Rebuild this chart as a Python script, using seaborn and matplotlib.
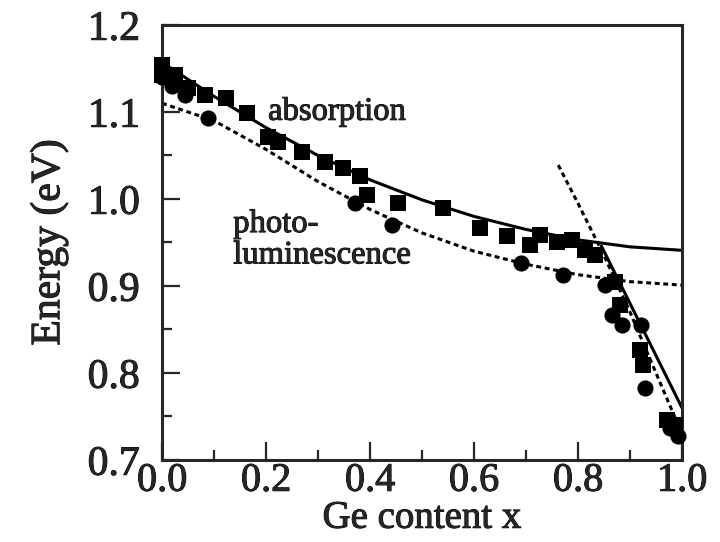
import matplotlib.pyplot as plt
import matplotlib.patheffects as pe
import numpy as np
import pandas as pd
import seaborn as sns
from matplotlib.ticker import MultipleLocator

sns.set_style("ticks")
plt.rcParams['font.family'] = ['Liberation Serif', 'DejaVu Serif']
plt.rcParams['axes.linewidth'] = 2.2

abs_x = [0.0, 0.0, 0.025, 0.05, 0.083, 0.123, 0.163, 0.204, 0.223, 0.269, 0.313, 0.348,
         0.381, 0.395, 0.454, 0.54, 0.612, 0.663, 0.708, 0.727, 0.76, 0.788, 0.813, 0.833,
         0.871, 0.881, 0.919, 0.925, 0.971, 0.987]
abs_y = [1.154, 1.143, 1.143, 1.128, 1.12, 1.116, 1.099, 1.071, 1.066, 1.054, 1.043, 1.036,
         1.026, 1.005, 0.995, 0.99, 0.967, 0.957, 0.947, 0.959, 0.951, 0.953, 0.941, 0.936,
         0.905, 0.878, 0.826, 0.809, 0.746, 0.74]
pl_x = [0.0, 0.02, 0.045, 0.088, 0.371, 0.442, 0.69, 0.771, 0.852, 0.865, 0.885, 0.921,
        0.929, 0.977, 0.992]
pl_y = [1.14, 1.13, 1.12, 1.093, 0.995, 0.97, 0.926, 0.913, 0.901, 0.867, 0.855, 0.855,
        0.783, 0.737, 0.728]

# fitted curves
fit_x = [0.0, 0.1, 0.2, 0.3, 0.4, 0.5, 0.6, 0.7, 0.8, 0.9, 1.0]
abs_fit = [1.157, 1.118, 1.082, 1.05, 1.022, 0.999, 0.98, 0.965, 0.953, 0.945, 0.941]
pl_fit = [1.11, 1.09, 1.057, 1.02, 0.988, 0.961, 0.94, 0.925, 0.913, 0.905, 0.901]
abs_steep_x = [0.845, 1.0]
abs_steep_y = [0.946, 0.76]
pl_steep_x = [0.762, 0.8, 0.85, 0.9, 0.95, 1.0]
pl_steep_y = [1.039, 0.995, 0.935, 0.87, 0.80, 0.73]

fig = plt.figure(figsize=(7.2, 5.42), dpi=100)
ax = fig.add_axes([0.225, 0.1513, 0.7222, 0.8026])

dot = (0, (1.6, 1.2))
sns.lineplot(x=fit_x, y=abs_fit, ax=ax, color='k', lw=2.2)
sns.lineplot(x=abs_steep_x, y=abs_steep_y, ax=ax, color='k', lw=2.2)
sns.lineplot(x=fit_x, y=pl_fit, ax=ax, color='k', lw=2.2, linestyle=dot)
sns.lineplot(x=pl_steep_x, y=pl_steep_y, ax=ax, color='k', lw=2.2, linestyle=dot)

sns.scatterplot(x=abs_x, y=abs_y, ax=ax, marker='s', s=135, color='k', linewidth=0,
                clip_on=False, zorder=3)
sns.scatterplot(x=pl_x, y=pl_y, ax=ax, marker='o', s=135, color='k', linewidth=0,
                clip_on=False, zorder=3)

thick = [pe.withStroke(linewidth=0.7, foreground='k')]  # scan looks a bit heavier
ax.text(0.204, 1.091, 'absorption', fontsize=23.5, va='baseline', path_effects=thick)
ax.text(0.137, 0.962, 'photo-', fontsize=23.5, va='baseline', path_effects=thick)
ax.text(0.137, 0.926, 'luminescence', fontsize=23.5, va='baseline', path_effects=thick)

ax.set_xlim(0, 1.0)
ax.set_ylim(0.7, 1.2)
ax.xaxis.set_major_locator(MultipleLocator(0.2))
ax.xaxis.set_minor_locator(MultipleLocator(0.1))
ax.yaxis.set_major_locator(MultipleLocator(0.1))
ax.yaxis.set_minor_locator(MultipleLocator(0.05))
ax.xaxis.set_major_formatter(plt.FormatStrFormatter('%.1f'))
ax.yaxis.set_major_formatter(plt.FormatStrFormatter('%.1f'))
ax.tick_params(which='both', direction='in', width=1.6, top=False, right=False)
ax.tick_params(which='major', length=13)
ax.tick_params(which='minor', length=7.5)
ax.tick_params(axis='x', which='major', pad=2, labelsize=29)
ax.tick_params(axis='y', which='major', pad=16, labelsize=30)

ax.set_xlabel('Ge content x', fontsize=28, labelpad=0, path_effects=thick)
ax.set_ylabel('Energy (eV)', fontsize=30, labelpad=14, path_effects=thick)
for lab in ax.get_xticklabels() + ax.get_yticklabels():
    lab.set_path_effects(thick)

fig.savefig('out.png', dpi=100)
